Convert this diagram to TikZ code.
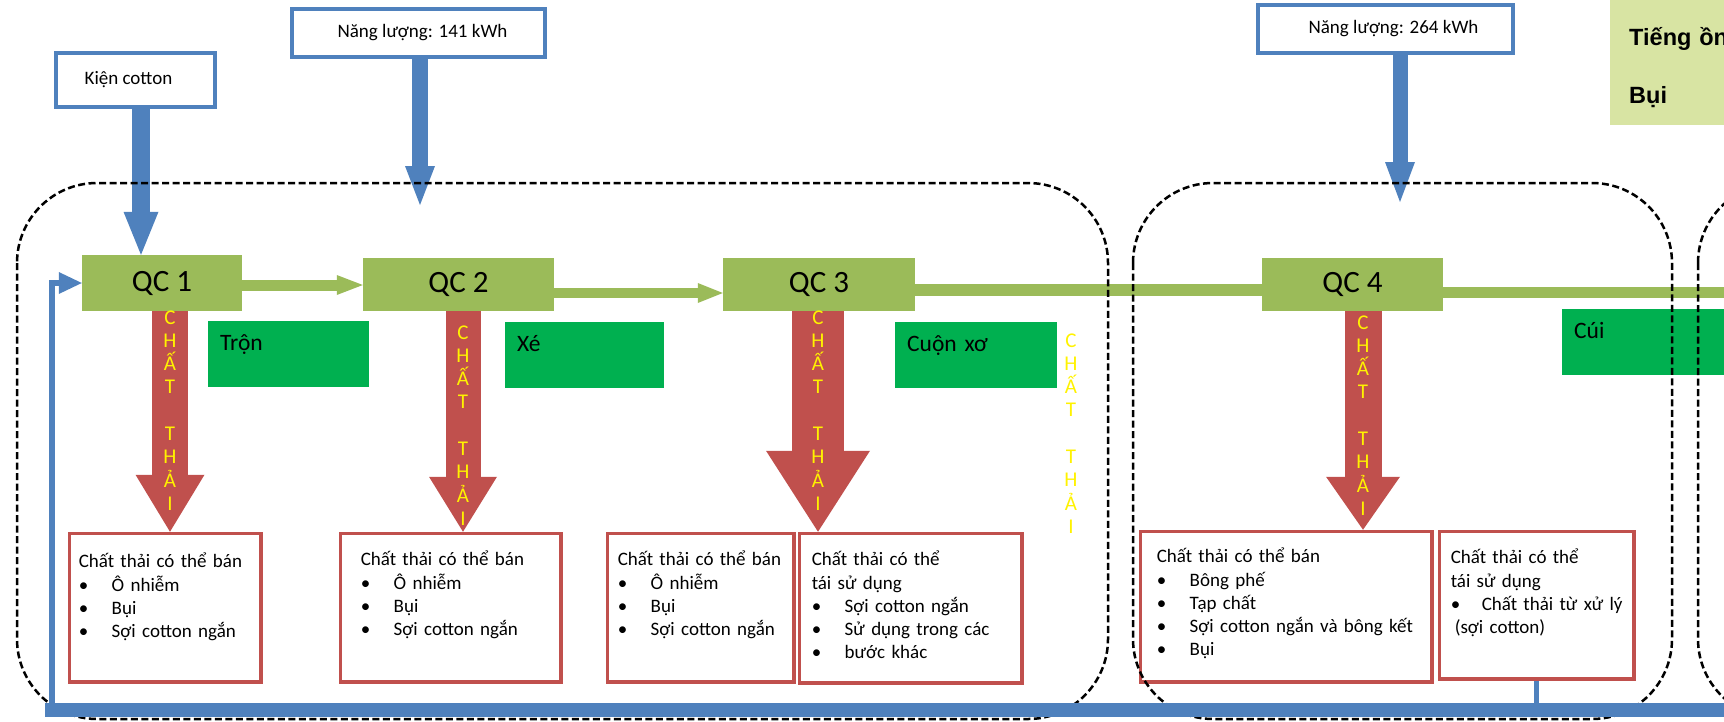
\documentclass[tikz,border=0pt]{standalone}
\usepackage{fontspec}
\setmainfont{Carlito}
\newfontfamily\legendfont{Liberation Sans}
\usetikzlibrary{arrows.meta}

\definecolor{qcgreen}{RGB}{155,187,89}
\definecolor{stepgreen}{RGB}{0,176,80}
\definecolor{wred}{RGB}{192,80,77}
\definecolor{inblue}{RGB}{79,129,189}
\definecolor{notefill}{RGB}{216,228,163}

\newcommand{\bul}{\makebox[33pt][l]{•}}
\newcommand{\chatthai}{C\\H\\Ấ\\T\\[23.3pt]T\\H\\Ả\\I}

\begin{document}
\begin{tikzpicture}[
    x=1pt, y=-1pt,
    txt/.style={font=\fontsize{19}{23.3}\selectfont},
    inbox/.style={txt, draw=inblue, line width=4pt, fill=white, inner sep=0pt},
    qc/.style={fill=qcgreen, inner sep=0pt, font=\fontsize{31}{36}\selectfont},
    stepbox/.style={fill=stepgreen, anchor=north west, inner xsep=12pt, inner ysep=0pt, text height=29pt, text depth=37pt, align=left, font=\fontsize{23.5}{28}\selectfont},
    wbox/.style={txt, draw=wred, line width=3.5pt, fill=white, anchor=north west, inner ysep=0pt, align=left},
    thai/.style={text=yellow, font=\fontsize{21}{23.3}\selectfont, text width=22pt, align=center, inner sep=0pt, anchor=base},
    notebox/.style={fill=notefill, anchor=north west, inner xsep=19pt, inner ysep=0pt, text width=150pt, text height=50pt, text depth=80pt, align=left, font=\legendfont\bfseries\fontsize{23.5}{58}\selectfont},
    fatblue/.style={draw=inblue, line width=#1},
    fatred/.style={draw=wred, line width=#1},
    flow/.style={draw=qcgreen, line width=#1},
    stage/.style={draw, dash pattern=on 7pt off 3.5pt, line width=2.5pt, rounded corners=80pt},
    band/.style={draw=inblue, line width=14pt, line cap=rect},
    ret/.style={draw=inblue, line width=#1}
]
\useasboundingbox (0,0) rectangle (1724,721);
\clip (0,0) rectangle (1724,721);

% inputs and notes
\node[notebox] (note) at (1610,-5) {Tiếng ồn\\Bụi};
\node[inbox, minimum width=159pt, minimum height=54pt] (kien) at (135.5,80) {\hspace*{-14pt}Kiện cotton};
\node[inbox, minimum width=253pt, minimum height=48pt] (en1) at (418.5,33) {\hspace*{8pt}Năng lượng: 141 kWh};
\node[inbox, minimum width=255pt, minimum height=48pt] (en2) at (1385.5,29) {\hspace*{16pt}Năng lượng: 264 kWh};

% process steps
\node[qc, minimum width=160pt, minimum height=56pt] (qc1) at (162,283) {QC 1};
\node[qc, minimum width=191pt, minimum height=53pt] (qc2) at (458.5,284.5) {QC 2};
\node[qc, minimum width=192pt, minimum height=53pt] (qc3) at (819,284.5) {QC 3};
\node[qc, minimum width=181pt, minimum height=53pt] (qc4) at (1352.5,284.5) {QC 4};

\node[stepbox, text width=137pt] (tron) at (208,321) {Trộn};
\node[stepbox, text width=135pt] (xe) at (505,322) {Xé};
\node[stepbox, text width=138pt] (cuon) at (895,322) {Cuộn xơ};
\node[stepbox, text width=200pt] (cui) at (1562,309) {Cúi};

% waste boxes
\node[wbox, inner xsep=9.25pt, text width=173pt, text height=34.25pt, text depth=114.25pt] (w1) at (67.75,531.75)
    {Chất thải có thể bán\\\bul Ô nhiễm\\\bul Bụi\\\bul Sợi cotton ngắn};
\node[wbox, inner xsep=20.25pt, text width=180pt, text height=32.25pt, text depth=116.25pt] (w2) at (338.75,531.75)
    {Chất thải có thể bán\\\bul Ô nhiễm\\\bul Bụi\\\bul Sợi cotton ngắn};
\node[wbox, inner xsep=10.25pt, text width=166pt, text height=32.25pt, text depth=116.25pt] (w3a) at (605.75,531.75)
    {Chất thải có thể bán\\\bul Ô nhiễm\\\bul Bụi\\\bul Sợi cotton ngắn};
\node[wbox, inner xsep=12.25pt, text width=198pt, text height=32.25pt, text depth=117.25pt] (w3b) at (797.75,531.75)
    {Chất thải có thể\\tái sử dụng\\\bul Sợi cotton ngắn\\\bul Sử dụng trong các\\\bul bước khác};
\node[wbox, inner xsep=16.25pt, text width=259pt, text height=31.25pt, text depth=119.25pt] (w4a) at (1138.75,529.75)
    {Chất thải có thể bán\\\bul Bông phế\\\bul Tạp chất\\\bul Sợi cotton ngắn và bông kết\\\bul Bụi};
\node[wbox, inner xsep=11.25pt, text width=172pt, text height=32.25pt, text depth=115.25pt] (w4b) at (1437.75,529.75)
    {Chất thải có thể\\tái sử dụng\\\mbox{\makebox[31pt][l]{•}Chất thải từ xử lý}\\\hspace*{4pt}(sợi cotton)};

% inputs
\coordinate (e1tip) at (420,205);
\coordinate (e2tip) at (1400,202);
\draw[fatblue=18pt, -{Triangle[length=43pt, width=35pt, line width=0pt]}] ([xshift=5.5pt]kien.south) -- ([xshift=5.5pt]kien.south |- qc1.north);
\draw[fatblue=16pt, -{Triangle[length=39pt, width=30pt, line width=0pt]}] (en1.south -| e1tip) -- (e1tip);
\draw[fatblue=15pt, -{Triangle[length=40pt, width=30pt, line width=0pt]}] (en2.south -| e2tip) -- (e2tip);

% material flow
\coordinate (out) at (1730,292.5);
\draw[flow=11pt, -{Triangle[length=26pt, width=20pt, line width=0pt]}] ([yshift=-2pt]qc1.east) -- ([yshift=-2pt]qc1.east -| qc2.west);
\draw[flow=10pt, -{Triangle[length=25pt, width=20pt, line width=0pt]}] ([yshift=-8.5pt]qc2.east) -- ([yshift=-8.5pt]qc2.east -| qc3.west);
\draw[flow=12pt] ([yshift=-5.5pt]qc3.east) -- ([yshift=-5.5pt]qc3.east -| qc4.west);
\draw[flow=11pt] ([yshift=-8pt]qc4.east) -- (out);

% waste flow
\draw[fatred=36pt, -{Triangle[length=57pt, width=69pt, line width=0pt]}] ([xshift=8pt]qc1.south) -- ([xshift=8pt]qc1.south |- w1.north);
\draw[fatred=35pt, -{Triangle[length=55pt, width=68pt, line width=0pt]}] ([xshift=4.5pt]qc2.south) -- ([xshift=4.5pt]qc2.south |- w2.north);
\draw[fatred=52pt, -{Triangle[length=81pt, width=104pt, line width=0pt]}] ([xshift=-1pt]qc3.south) -- ([xshift=-1pt]qc3.south |- w3a.north);
\draw[fatred=37pt, -{Triangle[length=53pt, width=74pt, line width=0pt]}] ([xshift=10.5pt]qc4.south) -- ([xshift=10.5pt]qc4.south |- w4a.north);

\node[thai] (t1) at (170,324) {\chatthai};
\node[thai] (t2) at (463,339) {\chatthai};
\node[thai] (t3) at (818,324) {\chatthai};
\node[thai] (t4) at (1363,329) {\chatthai};
\node[thai] (t5) at (1071,347) {\chatthai};

% stages
\draw[stage] (17,183) rectangle (1108,719);
\draw[stage] (1133,183) rectangle (1672,719);
\draw[stage] (1698,183) rectangle (2300,719);

% return loop
\coordinate (bandR) at (1730,710);
\coordinate (loopL) at (52,710);
\draw[band] (bandR) -- (loopL);
\draw[ret=5pt] (w4b.south) -- (w4b.south |- loopL);
\draw[ret=6pt, -{Triangle[length=23pt, width=22pt, line width=0pt]}] (loopL) |- (qc1.west);
\end{tikzpicture}
\end{document}
